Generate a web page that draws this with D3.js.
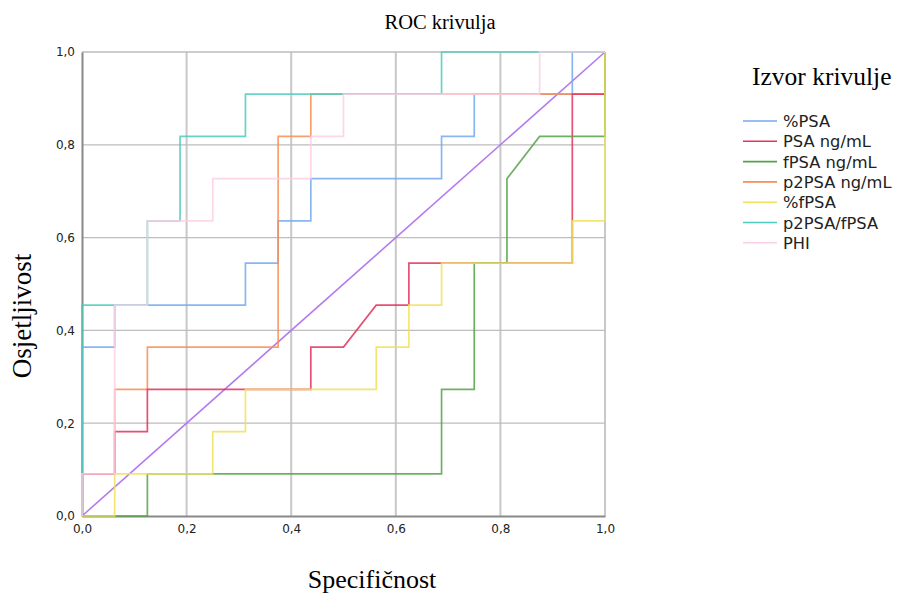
<!DOCTYPE html>
<html>
<head>
<meta charset="utf-8">
<script src="https://cdn.jsdelivr.net/npm/d3@7"></script>
<style>
  body { margin: 0; background: #fff; }
  svg text { font-family: "DejaVu Sans", Arial, sans-serif; }
</style>
</head>
<body>
<div id="chart" style="width:900px;height:597px"></div>
<script>
// 1 - specificity (steps of 1/16) and sensitivity (steps of 1/11)
const seriesNames = ["%PSA", "PSA ng/mL", "fPSA ng/mL", "p2PSA ng/mL", "%fPSA", "p2PSA/fPSA", "PHI"];
const seriesColors = ["#74a9ee", "#e2335a", "#55a247", "#f98d55", "#f0e25a", "#4dcbbb", "#fdcfe4"];
// order in which the curves are painted (later on top)
const drawOrder = [0, 3, 1, 2, 4, 5, 6];

const pctPSA_x = [0, 0, 0.0625, 0.0625, 0.3125, 0.3125, 0.375, 0.375, 0.4375, 0.4375, 0.6875, 0.6875, 0.75, 0.75, 0.9375, 0.9375, 1];
const pctPSA_y = [0, 0.364, 0.364, 0.4545, 0.4545, 0.545, 0.545, 0.636, 0.636, 0.727, 0.727, 0.818, 0.818, 0.909, 0.909, 1, 1];

const psa_x = [0, 0, 0.0625, 0.0625, 0.125, 0.125, 0.4375, 0.4375, 0.5, 0.5625, 0.625, 0.625, 0.9375, 0.9375, 1, 1];
const psa_y = [0, 0.0909, 0.0909, 0.182, 0.182, 0.273, 0.273, 0.364, 0.364, 0.4545, 0.4545, 0.545, 0.545, 0.909, 0.909, 1];

const fpsa_x = [0, 0.125, 0.125, 0.6875, 0.6875, 0.75, 0.75, 0.8125, 0.8125, 0.875, 1, 1];
const fpsa_y = [0, 0, 0.0909, 0.0909, 0.273, 0.273, 0.545, 0.545, 0.727, 0.818, 0.818, 1];

const p2psa_x = [0, 0, 0.0625, 0.0625, 0.125, 0.125, 0.375, 0.375, 0.4375, 0.4375, 1, 1];
const p2psa_y = [0, 0.0909, 0.0909, 0.273, 0.273, 0.364, 0.364, 0.818, 0.818, 0.909, 0.909, 1];

const pctFpsa_x = [0, 0.0625, 0.0625, 0.25, 0.25, 0.3125, 0.3125, 0.5625, 0.5625, 0.625, 0.625, 0.6875, 0.6875, 0.9375, 0.9375, 1, 1];
const pctFpsa_y = [0, 0, 0.0909, 0.0909, 0.182, 0.182, 0.273, 0.273, 0.364, 0.364, 0.4545, 0.4545, 0.545, 0.545, 0.636, 0.636, 1];

const ratio_x = [0, 0, 0.0625, 0.125, 0.125, 0.1875, 0.1875, 0.3125, 0.3125, 0.6875, 0.6875, 1];
const ratio_y = [0, 0.4545, 0.4545, 0.4545, 0.636, 0.636, 0.818, 0.818, 0.909, 0.909, 1, 1];

const phi_x = [0, 0, 0.0625, 0.0625, 0.125, 0.125, 0.25, 0.25, 0.4375, 0.4375, 0.5, 0.5, 0.875, 0.875, 1];
const phi_y = [0, 0.0909, 0.0909, 0.4545, 0.4545, 0.636, 0.636, 0.727, 0.727, 0.818, 0.818, 0.909, 0.909, 1, 1];

const seriesX = [pctPSA_x, psa_x, fpsa_x, p2psa_x, pctFpsa_x, ratio_x, phi_x];
const seriesY = [pctPSA_y, psa_y, fpsa_y, p2psa_y, pctFpsa_y, ratio_y, phi_y];

const ticks = [0, 0.2, 0.4, 0.6, 0.8, 1.0];
const tickLabels = ["0,0", "0,2", "0,4", "0,6", "0,8", "1,0"];

const width = 900, height = 597;
const mLeft = 82, mRight = 605, mTop = 52, mBottom = 516;
const serif = "'Liberation Serif', 'Times New Roman', serif";

const svg = d3.select("#chart").append("svg")
    .attr("width", width)
    .attr("height", height);

const x = d3.scaleLinear().domain([0, 1]).range([mLeft, mRight]);
const y = d3.scaleLinear().domain([0, 1]).range([mBottom, mTop]);

// grid
svg.append("g").selectAll("line").data(ticks.slice(1)).join("line")
    .attr("x1", d => x(d)).attr("x2", d => x(d))
    .attr("y1", mTop).attr("y2", mBottom)
    .attr("stroke", "#c8c8c8").attr("stroke-width", 2);
svg.append("g").selectAll("line").data(ticks.slice(1)).join("line")
    .attr("x1", mLeft).attr("x2", mRight)
    .attr("y1", d => y(d)).attr("y2", d => y(d))
    .attr("stroke", "#bdbdbd").attr("stroke-width", 1.3);

// axes
const xAxis = svg.append("g")
    .attr("transform", `translate(0,${mBottom})`)
    .call(d3.axisBottom(x).tickValues(ticks).tickFormat((d, i) => tickLabels[i]).tickSize(0).tickPadding(8));
const yAxis = svg.append("g")
    .attr("transform", `translate(${mLeft},0)`)
    .call(d3.axisLeft(y).tickValues(ticks).tickFormat((d, i) => tickLabels[i]).tickSize(0).tickPadding(7));
[xAxis, yAxis].forEach(a => {
    a.select(".domain").attr("stroke", "#888").attr("stroke-width", 2);
    a.selectAll("text").attr("font-size", 12).attr("fill", "#222")
        .style("font-family", "'DejaVu Sans', Arial, sans-serif");
});

// reference diagonal
svg.append("line")
    .attr("x1", x(0)).attr("y1", y(0)).attr("x2", x(1)).attr("y2", y(1))
    .attr("stroke", "#b57af0").attr("stroke-width", 1.6);

const line = d3.line().x(d => x(d[0])).y(d => y(d[1]));

drawOrder.forEach(i => {
    const pts = seriesX[i].map((v, j) => [v, seriesY[i][j]]);
    svg.append("path")
        .datum(pts)
        .attr("d", line)
        .attr("fill", "none")
        .attr("stroke", seriesColors[i])
        .attr("stroke-width", 1.7)
        .attr("stroke-opacity", 0.85);
});

// titles
svg.append("text").attr("x", 440).attr("y", 29).attr("text-anchor", "middle")
    .style("font-family", serif)
    .attr("font-size", 20.5).text("ROC krivulja");
svg.append("text").attr("x", 372).attr("y", 588).attr("text-anchor", "middle")
    .style("font-family", serif)
    .attr("font-size", 26).text("Specifičnost");
svg.append("text")
    .attr("transform", `translate(31,316) rotate(-90)`)
    .attr("text-anchor", "middle")
    .style("font-family", serif)
    .attr("font-size", 27).text("Osjetljivost");

// legend
const legend = svg.append("g").attr("transform", "translate(743,0)");
legend.append("text").attr("x", 9).attr("y", 85)
    .style("font-family", serif)
    .attr("font-size", 25.5).text("Izvor krivulje");
seriesNames.forEach((name, i) => {
    const yy = 121 + i * 20.3;
    legend.append("line").attr("x1", 0).attr("x2", 34).attr("y1", yy).attr("y2", yy)
        .attr("stroke", seriesColors[i]).attr("stroke-width", 1.6);
    legend.append("text").attr("x", 40).attr("y", yy + 6)
        .attr("font-size", 16.3).attr("fill", "#222").text(name);
});
</script>
</body>
</html>
